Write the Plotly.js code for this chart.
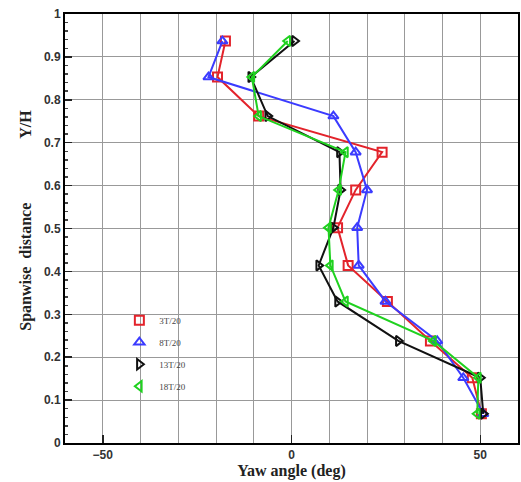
<!DOCTYPE html>
<html>
<head>
<meta charset="utf-8">
<script src="https://cdn.plot.ly/plotly-3.0.1.min.js"></script>
<style>html,body{margin:0;padding:0;background:#fff;}#chart{width:521px;height:482px;}</style>
</head>
<body>
<div id="chart"></div>
<script>
// Spanwise positions (Y/H)
var spanY = [0.068, 0.152, 0.238, 0.330, 0.414, 0.502, 0.590, 0.678, 0.762, 0.853, 0.937];
// Yaw angle (deg) for each series
var yaw3T  = [50.3, 47.9, 36.8, 25.4, 15.0, 12.2, 17.0, 24.0, -8.7, -19.6, -17.5];
var yaw8T  = [50.8, 45.5, 38.6, 24.9, 17.8, 17.4, 20.0, 17.0, 11.1, -22.0, -18.3];
var yaw13T = [50.8, 50.0, 28.3, 12.2, 7.2, 11.1, 13.0, 12.7, -6.3, -10.8, 0.8];
var yaw18T = [49.2, 49.5, 37.6, 14.3, 10.3, 9.8, 12.5, 14.3, -8.7, -10.5, -1.0];
var seriesNames = ['3T/20', '8T/20', '13T/20', '18T/20'];

var colors = ['#e3232b', '#3b3bff', '#111111', '#1fd11f'];
var symbols = ['square-open', 'triangle-up-open', 'triangle-right-open', 'triangle-left-open'];
var data = [yaw3T, yaw8T, yaw13T, yaw18T];

var traces = [];
for (var i = 0; i < data.length; i++) {
  traces.push({
    x: data[i], y: spanY, type: 'scatter', mode: 'lines+markers',
    name: seriesNames[i], showlegend: false,
    line: {color: colors[i], width: 2},
    marker: {symbol: symbols[i], size: 9, color: colors[i], line: {width: 2, color: colors[i]}}
  });
}
for (var j = 0; j < data.length; j++) {
  traces.push({
    x: [null], y: [null], type: 'scatter', mode: 'markers',
    name: seriesNames[j], showlegend: true, legendgroup: 'g' + j,
    marker: {symbol: symbols[j], size: 9, color: colors[j], line: {width: 2, color: colors[j]}}
  });
}

var layout = {
  width: 521, height: 482,
  margin: {l: 65, r: 3, t: 14, b: 39},
  paper_bgcolor: '#fff', plot_bgcolor: '#fff',
  showlegend: true,
  legend: {
    x: 0.12, y: 0.32, xanchor: 'left', yanchor: 'top',
    bgcolor: 'rgba(0,0,0,0)',
    font: {family: 'Liberation Serif, Times New Roman, serif', size: 9, color: '#444'},
    tracegroupgap: 3, itemwidth: 24
  },
  xaxis: {
    range: [-60, 60], dtick: 50, tick0: 0,
    ticks: 'inside', ticklen: 8, tickwidth: 1.5, tickcolor: '#222',
    showgrid: true, gridcolor: '#999', gridwidth: 1,
    minor: {dtick: 10, showgrid: true, gridcolor: '#999', gridwidth: 1, ticks: ''},
    showline: true, mirror: true, linecolor: '#000', linewidth: 2,
    zeroline: false,
    tickfont: {family: 'Liberation Sans, Arial, sans-serif', size: 12, color: '#333', weight: 'bold'},
    title: {text: 'Yaw angle (deg)', standoff: 0,
      font: {family: 'Liberation Serif, Times New Roman, serif', size: 16, color: '#222', weight: 'bold'}}
  },
  yaxis: {
    range: [0, 1], dtick: 0.1, tick0: 0,
    ticks: 'inside', ticklen: 7, tickwidth: 1.5, tickcolor: '#222',
    showgrid: true, gridcolor: '#999', gridwidth: 1,
    minor: {dtick: 0.02, ticks: 'inside', ticklen: 3, tickcolor: '#444', showgrid: false},
    showline: true, mirror: true, linecolor: '#000', linewidth: 2,
    zeroline: false,
    tickfont: {family: 'Liberation Sans, Arial, sans-serif', size: 12, color: '#333', weight: 'bold'},
    title: {text: '&nbsp;&nbsp;&nbsp;&nbsp;Spanwise&nbsp;&nbsp;distance&nbsp;&nbsp;&nbsp;&nbsp;&nbsp;&nbsp;&nbsp;&nbsp;&nbsp;&nbsp;&nbsp;&nbsp;&nbsp;&nbsp;&nbsp;&nbsp;Y/H', standoff: 8,
      font: {family: 'Liberation Serif, Times New Roman, serif', size: 16, color: '#222', weight: 'bold'}}
  }
};

Plotly.newPlot('chart', traces, layout, {displayModeBar: false, staticPlot: true});
</script>
</body>
</html>
